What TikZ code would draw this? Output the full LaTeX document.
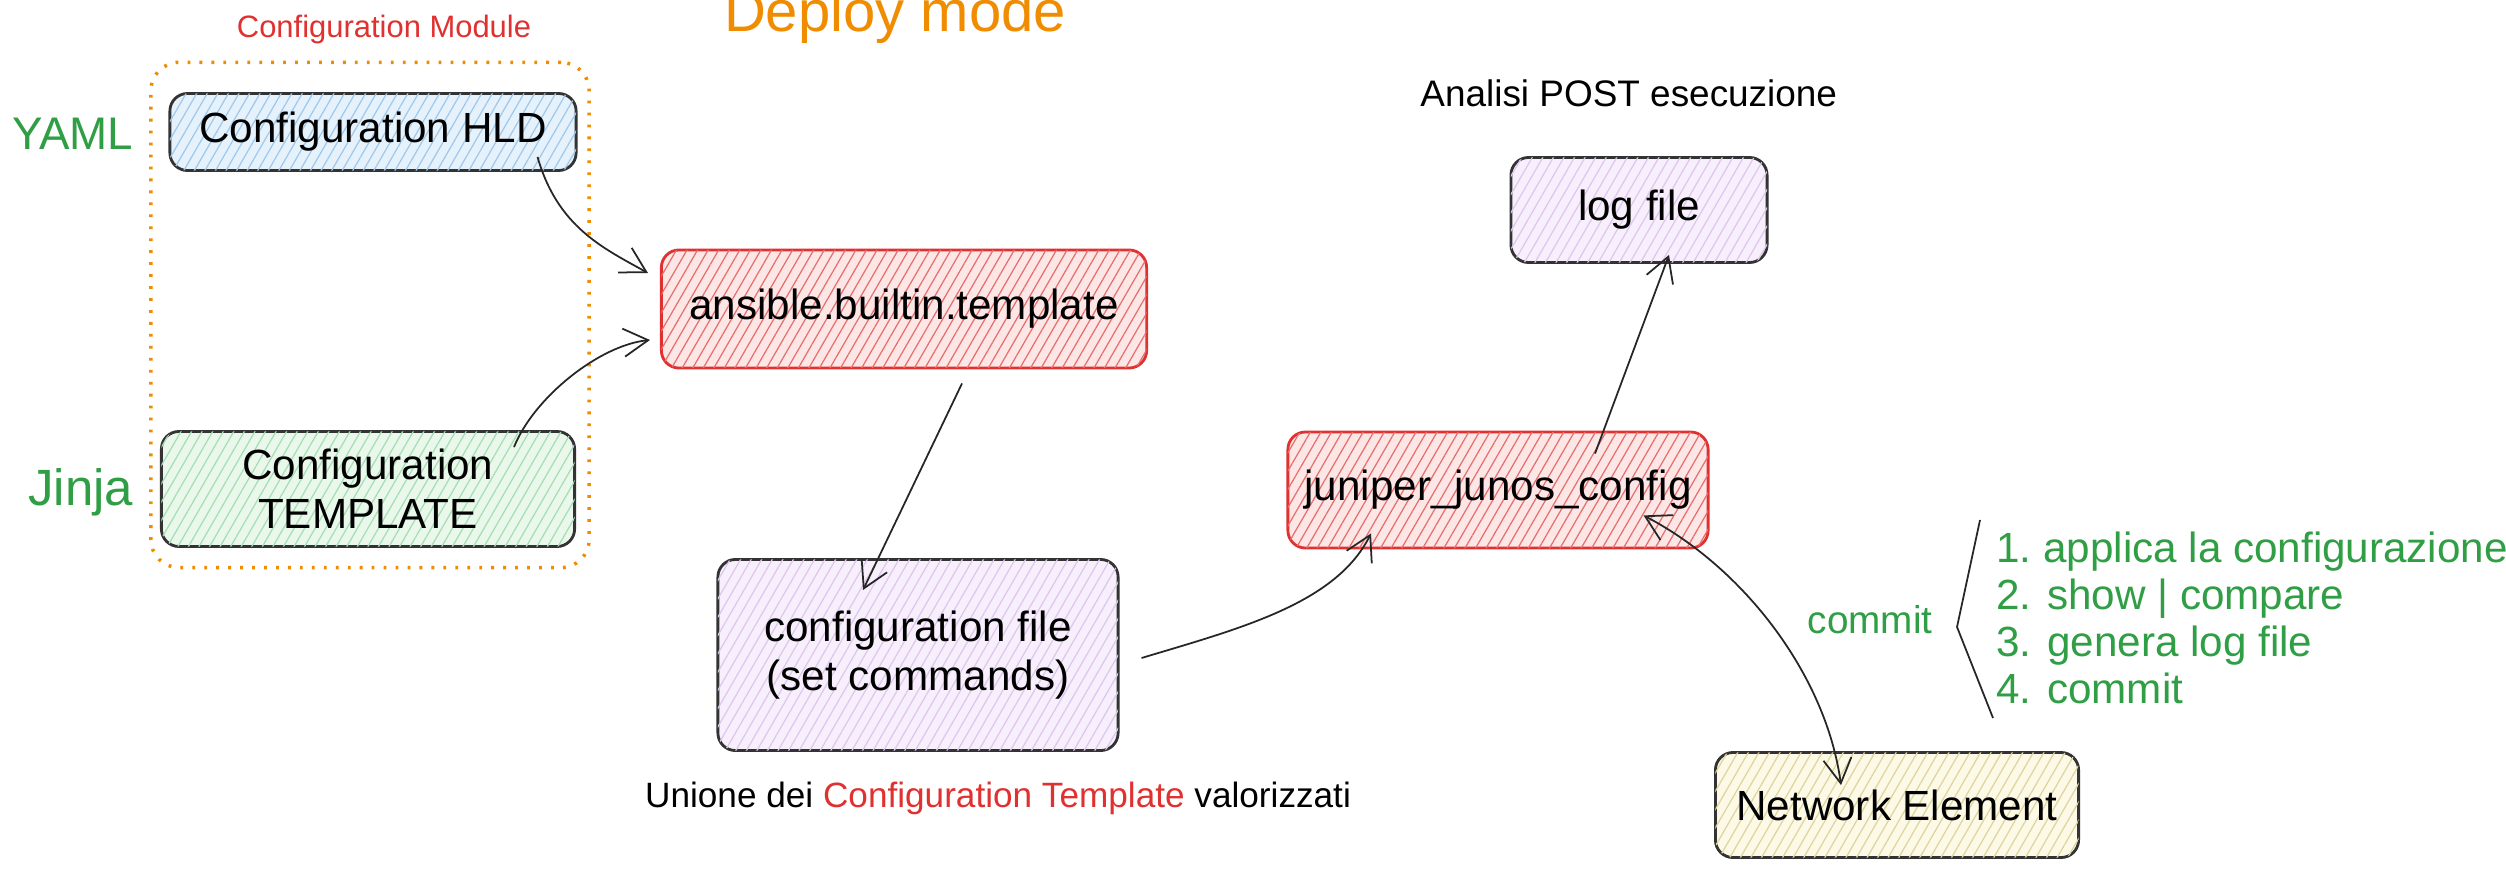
\documentclass[tikz,border=0pt]{standalone}
\usepackage{fontspec}
\setmainfont{Liberation Sans}
\usepackage{tikz}
\usetikzlibrary{arrows.meta,patterns.meta}

\definecolor{exred}{RGB}{224,49,49}
\definecolor{exgreen}{RGB}{47,158,68}
\definecolor{exorange}{RGB}{240,140,0}
\definecolor{bluefill}{RGB}{230,242,251}
\definecolor{blueline}{RGB}{160,200,235}
\definecolor{greenfill}{RGB}{234,248,236}
\definecolor{greenline}{RGB}{165,222,178}
\definecolor{redfill}{RGB}{252,230,230}
\definecolor{redline}{RGB}{232,110,110}
\definecolor{lilacfill}{RGB}{247,239,251}
\definecolor{lilacline}{RGB}{222,198,238}
\definecolor{yellowfill}{RGB}{252,249,230}
\definecolor{yellowline}{RGB}{222,212,160}

\tikzset{
  box/.style={draw=black!80, line width=0.8pt, rounded corners=5pt, align=center,
    inner sep=2pt, font=\fontsize{12}{14}\selectfont},
  hatched/.style 2 args={fill=#1,
    postaction={pattern={Lines[angle=60,distance=2.6pt,line width=0.35pt]}, pattern color=#2}},
  flow/.style={-{Straight Barb[length=7pt,width=8pt]}, line width=0.5pt, black!85},
  note/.style={font=\fontsize{10.5}{12}\selectfont},
  tag/.style={text=exgreen, inner sep=0pt, anchor=base east},
}

\begin{document}
\begin{tikzpicture}[x=0.01cm, y=-0.01cm]

  \useasboundingbox (0,0) rectangle (2506,873);
  \clip (0,0) rectangle (2506,873);
  \fill[white] (0,0) rectangle (2506,873);

  \node[text=exorange, font=\fontsize{16.5}{20}\selectfont, anchor=base] (title) at (895,32) {Deploy mode};

  % configuration module
  \node[draw=exorange, line width=1pt, dash pattern=on 0.8pt off 2.6pt, rounded corners=8pt,
    minimum width=4.38cm, minimum height=5.05cm] (module) at (370,315) {};
  \node[text=exred, font=\fontsize{8.8}{10}\selectfont] (modname) at (384,30) {Configuration Module};
  \node[tag, font=\fontsize{13}{16}\selectfont] (yaml) at (134,150) {YAML};
  \node[tag, font=\fontsize{14.5}{16}\selectfont] (jinja) at (134,505) {Jinja};

  \node[box, hatched={bluefill}{blueline}, minimum width=4.06cm, minimum height=0.77cm] (hld) at (373,132) {Configuration HLD};
  \node[box, hatched={greenfill}{greenline}, minimum width=4.13cm, minimum height=1.15cm] (tmpl) at (368,489) {Configuration\\TEMPLATE};

  \node[box, draw=exred, hatched={redfill}{redline}, minimum width=4.85cm, minimum height=1.18cm] (ansible) at (904,309) {ansible.builtin.template};
  \node[box, hatched={lilacfill}{lilacline}, minimum width=4cm, minimum height=1.91cm] (cfgfile) at (918,655) {configuration file\\(set commands)};
  \node[note, font=\fontsize{10}{12}\selectfont] (union) at (998,798) {Unione dei \textcolor{exred}{Configuration Template} valorizzati};

  \node[note, anchor=west] (post) at (1408,93) {Analisi POST esecuzione};
  \node[box, hatched={lilacfill}{lilacline}, minimum width=2.56cm, minimum height=1.05cm] (logfile) at (1639,210) {log file};
  \node[box, draw=exred, hatched={redfill}{redline}, minimum width=4.2cm, minimum height=1.16cm] (junos) at (1498,490) {juniper\_junos\_config};
  \node[box, hatched={yellowfill}{yellowline}, minimum width=3.63cm, minimum height=1.05cm] (netel) at (1897,805) {Network Element};

  \node[text=exgreen, font=\fontsize{11}{12}\selectfont] (commit) at (1870,620) {commit};
  \node[text=exgreen, font=\fontsize{12}{13.4}\selectfont, align=left, anchor=west] (steps) at (1984,618)
    {\frenchspacing 1. applica la configurazione\\2. show | compare\\3. genera log file\\4. commit};
  \draw[black!85, line width=0.5pt] (1980,520) -- (1957,627) -- (1993,718);

  % connectors
  \draw[flow] ([shift={(-40,-15)}]hld.south east) .. controls +(20,70) and +(-45,-25) .. ([shift={(-12,-36)}]ansible.west);
  \draw[flow] ([shift={(-62,17)}]tmpl.north east) .. controls +(20,-50) and +(-50,5) .. ([shift={(-10,31)}]ansible.west);
  \draw[flow] ([shift={(58,14)}]ansible.south) -- ([shift={(-55,32)}]cfgfile.north);
  \draw[flow] ([shift={(22,3)}]cfgfile.east) .. controls +(100,-30) and +(-35,70) .. ([shift={(-127,-16)}]junos.south);
  \draw[flow] ([shift={(97,23)}]junos.north) -- ([shift={(30,-9)}]logfile.south);
  \draw[flow, {Straight Barb[length=7pt,width=8pt]}-{Straight Barb[length=7pt,width=8pt]}]
    ([shift={(-66,-34)}]junos.south east) .. controls +(100,52) and +(-15,-110) .. ([shift={(-56,34)}]netel.north);

\end{tikzpicture}
\end{document}
